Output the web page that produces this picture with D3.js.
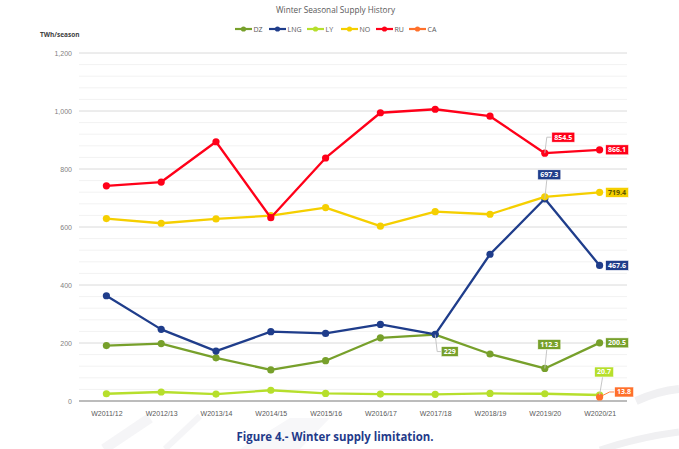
<!DOCTYPE html>
<html>
<head>
<meta charset="utf-8">
<script src="https://cdn.jsdelivr.net/npm/d3@7"></script>
<style>
body{margin:0;background:#fff;}
svg{display:block;font-family:"Open Sans",sans-serif;}
</style>
</head>
<body>
<svg id="chart" width="679" height="449"></svg>
<script>
/* data */
const seasons=["W2011/12","W2012/13","W2013/14","W2014/15","W2015/16","W2016/17","W2017/18","W2018/19","W2019/20","W2020/21"];
const dz =[191,198,149,107,139,218,229,162,112.3,200.5];
const lng=[363,247,172,239,233,264,230,506,697.3,467.6];
const ly =[25,31,24,37,26,24,23,26,25,20.7];
const no =[629,613,628,639,667,603,653,644,704,719.4];
const ru =[742,755,894,632,838,994,1006,982,854.5,866.1];
const ca =[null,null,null,null,null,null,null,null,null,13.8];
const yTicks=[0,200,400,600,800,1000,1200];

const series=[
  {name:"DZ",values:dz,color:"#77a02b"},
  {name:"LNG",values:lng,color:"#1f3d8b"},
  {name:"LY",values:ly,color:"#b6df2c"},
  {name:"NO",values:no,color:"#f5cf00"},
  {name:"RU",values:ru,color:"#ff0019"},
  {name:"CA",values:ca,color:"#ff702b"}
];

/* data labels: which point, where the box goes */
const labels=[
  {s:"RU",i:8,pos:"up",leader:true},
  {s:"RU",i:9,pos:"right"},
  {s:"LNG",i:8,pos:"up",leader:true},
  {s:"NO",i:9,pos:"right",text:"#5b5500"},
  {s:"LNG",i:9,pos:"right"},
  {s:"DZ",i:6,pos:"down",leader:true},
  {s:"DZ",i:8,pos:"up",leader:true},
  {s:"DZ",i:9,pos:"right"},
  {s:"LY",i:9,pos:"up",leader:true},
  {s:"CA",i:9,pos:"side",leader:true}
];

const svg=d3.select("#chart");
const x=d3.scalePoint().domain(seasons).range([79,627]).padding(0.5);
const y=d3.scaleLinear().domain([0,1200]).range([401,53]);

/* watermark */
const wm=svg.append("g").attr("fill","none").attr("stroke","#f0f0f2");
wm.append("path").attr("d","M636,401 Q658,391 679,389").attr("stroke-width",8);
wm.append("path").attr("d","M600,450 Q640,437 679,432").attr("stroke-width",7);
wm.append("path").attr("d","M104,449 L150,418").attr("stroke-width",10).attr("stroke","#f5f5f7");
wm.append("path").attr("d","M165,449 L200,416").attr("stroke-width",6).attr("stroke","#f5f5f7");
wm.append("path").attr("d","M240,449 L290,418 L330,418 L300,449 Z").attr("fill","#f7f7f9").attr("stroke","none");

/* grid */
const minor=d3.range(40,1201,40).filter(v=>v%200!==0);
svg.append("g").selectAll("line").data(minor).join("line")
  .attr("x1",79).attr("x2",627).attr("y1",d=>y(d)).attr("y2",d=>y(d))
  .attr("stroke","#f2f2f2").attr("stroke-width",1);
svg.append("g").selectAll("line").data(yTicks.slice(1)).join("line")
  .attr("x1",79).attr("x2",627).attr("y1",d=>y(d)).attr("y2",d=>y(d))
  .attr("stroke","#dadada").attr("stroke-width",1);
svg.append("line").attr("x1",79).attr("x2",627).attr("y1",y(0)).attr("y2",y(0))
  .attr("stroke","#a6a6a6").attr("stroke-width",1.3);

/* axes */
const yAxis=svg.append("g").attr("transform","translate(72,0)")
  .call(d3.axisLeft(y).tickValues(yTicks).tickSize(0).tickPadding(0).tickFormat(d3.format(",")));
yAxis.select(".domain").remove();
yAxis.selectAll("text").attr("fill","#7f7f7f").attr("font-size","7px");

const xAxis=svg.append("g").attr("transform","translate(0,405)")
  .call(d3.axisBottom(x).tickSize(0).tickPadding(6));
xAxis.select(".domain").remove();
xAxis.selectAll("text").attr("fill","#595959").attr("font-size","7px");

/* title, unit, legend */
svg.append("text").attr("x",335.5).attr("y",13).attr("text-anchor","middle")
  .attr("font-size","9px").attr("fill","#595959").attr("textLength",119).attr("lengthAdjust","spacingAndGlyphs")
  .text("Winter Seasonal Supply History");
svg.append("text").attr("x",40).attr("y",37).attr("font-size","6.5px").attr("font-weight","bold")
  .attr("fill","#404040").text("TWh/season");

const legX=[235,269,307,341,376,409];
const leg=svg.append("g").selectAll("g").data(series).join("g")
  .attr("transform",(d,i)=>`translate(${legX[i]},29)`);
leg.append("line").attr("x1",0).attr("x2",17).attr("stroke",d=>d.color).attr("stroke-width",2.2);
leg.append("circle").attr("cx",8.5).attr("r",2.6).attr("fill",d=>d.color);
leg.append("text").attr("x",18.5).attr("y",2.6).attr("font-size","7px").attr("fill","#595959").text(d=>d.name);

/* lines */
const line=d3.line().defined(v=>v!=null).x((v,i)=>x(seasons[i])).y(v=>y(v));
const g=svg.append("g");
series.forEach(s=>{
  g.append("path").datum(s.values).attr("fill","none").attr("stroke",s.color)
    .attr("stroke-width",2.3).attr("stroke-linejoin","round").attr("d",line);
  g.append("g").selectAll("circle").data(s.values.map((v,i)=>({v,i})).filter(d=>d.v!=null)).join("circle")
    .attr("cx",d=>x(seasons[d.i])).attr("cy",d=>y(d.v)).attr("r",3.6).attr("fill",s.color);
});

/* data labels */
const lab=svg.append("g");
labels.forEach(l=>{
  const s=series.find(d=>d.name===l.s);
  const v=s.values[l.i];
  const px=x(seasons[l.i]), py=y(v);
  const t=lab.append("text").attr("font-size","7px").attr("font-weight","bold")
    .attr("fill",l.text||"#fff").text(d3.format(",")(v));
  const w=t.node().getComputedTextLength()+5, h=10;
  let bx,by,pts=null;
  if(l.pos==="right"){bx=px+6;by=py-h/2;}
  else if(l.pos==="up"){
    bx=px+(s.name==="LY"?-5:-7); by=py-(s.name==="RU"?21:s.name==="LY"?28:29);
    if(s.name==="RU"){bx=px+7;pts=[[px,py],[px+2,by+h/2],[bx,by+h/2]];}
    else pts=[[px,py],[px+2+(s.name==="LY"?1:0),by+h]];
  }
  else if(l.pos==="down"){bx=px+6;by=py+12;pts=[[px,py],[px+2,by+5],[bx,by+5]];}
  else {bx=px+15;by=py-10;pts=[[px,py],[px+10,by+5],[bx,by+5]];}
  if(pts) lab.insert("path","text").attr("d",d3.line()(pts)).attr("fill","none")
    .attr("stroke",s.name==="CA"?s.color:"#bfbfbf").attr("stroke-width",0.9);
  lab.insert("rect","text").attr("x",bx).attr("y",by).attr("width",w).attr("height",h)
    .attr("fill",s.color).attr("stroke","#fff").attr("stroke-width",0.6);
  t.attr("x",bx+2.5).attr("y",by+h/2+2.5);
});
lab.selectAll("text").raise();

/* caption */
svg.append("text").attr("x",335).attr("y",441).attr("text-anchor","middle")
  .attr("font-size","12px").attr("font-weight","bold").attr("fill","#1f3a8a")
  .attr("textLength",197).attr("lengthAdjust","spacingAndGlyphs")
  .text("Figure 4.- Winter supply limitation.");
</script>
</body>
</html>
